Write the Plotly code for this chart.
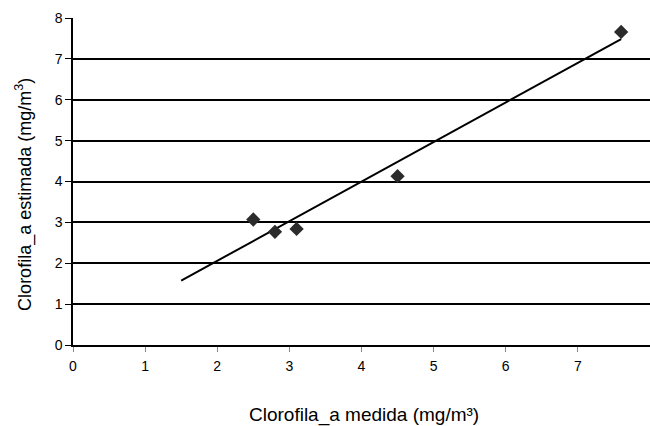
import numpy as np
import plotly.graph_objects as go

# Data
medida = [2.5, 2.8, 3.1, 4.5, 7.6]
estimada = [3.07, 2.77, 2.84, 4.13, 7.66]
x_ticks = [0, 1, 2, 3, 4, 5, 6, 7, 8]
y_ticks = [0, 1, 2, 3, 4, 5, 6, 7, 8]
trend_start = 1.5  # trendline extended backward

slope, intercept = np.polyfit(medida, estimada, 1)
tx = [trend_start, max(medida)]
ty = [slope * v + intercept for v in tx]

fig = go.Figure()
fig.add_trace(go.Scatter(x=tx, y=ty, mode="lines",
                         line=dict(color="black", width=2), showlegend=False,
                         hoverinfo="skip"))
fig.add_trace(go.Scatter(x=medida, y=estimada, mode="markers",
                         marker=dict(symbol="diamond", size=11, color="#2b2b2b"),
                         showlegend=False))

font = "Liberation Sans, Arial, sans-serif"
fig.update_layout(
    width=650, height=426,
    margin=dict(l=73, r=0, t=18, b=81),
    paper_bgcolor="white", plot_bgcolor="white",
    font=dict(family=font, color="black", size=14),
    xaxis=dict(range=[0, 8], tickvals=x_ticks, ticks="outside", ticklen=5,
               tickcolor="#888", showgrid=False, zeroline=False,
               showline=True, linecolor="black", linewidth=1.5,
               automargin=False, ticklabelstandoff=2),
    yaxis=dict(range=[0, 8], tickvals=y_ticks, ticks="outside", ticklen=6,
               tickcolor="black", showgrid=True, gridcolor="black", gridwidth=1.5,
               zeroline=False, showline=True, linecolor="black", linewidth=1.5,
               automargin=False),
    annotations=[
        dict(text="Clorofila_a medida (mg/m³)", xref="paper", yref="paper",
             x=0.505, y=-0.214, xanchor="center", yanchor="middle",
             showarrow=False, font=dict(size=19)),
        dict(text="Clorofila_a estimada (mg/m<sup>3</sup>)", xref="paper", yref="paper",
             x=-0.085, y=0.462, xanchor="center", yanchor="middle", textangle=-90,
             showarrow=False, font=dict(size=18)),
    ],
)
fig.write_html("out.html", config={"displayModeBar": False},
               post_script="document.body.style.margin='0';document.body.style.padding='0';")
